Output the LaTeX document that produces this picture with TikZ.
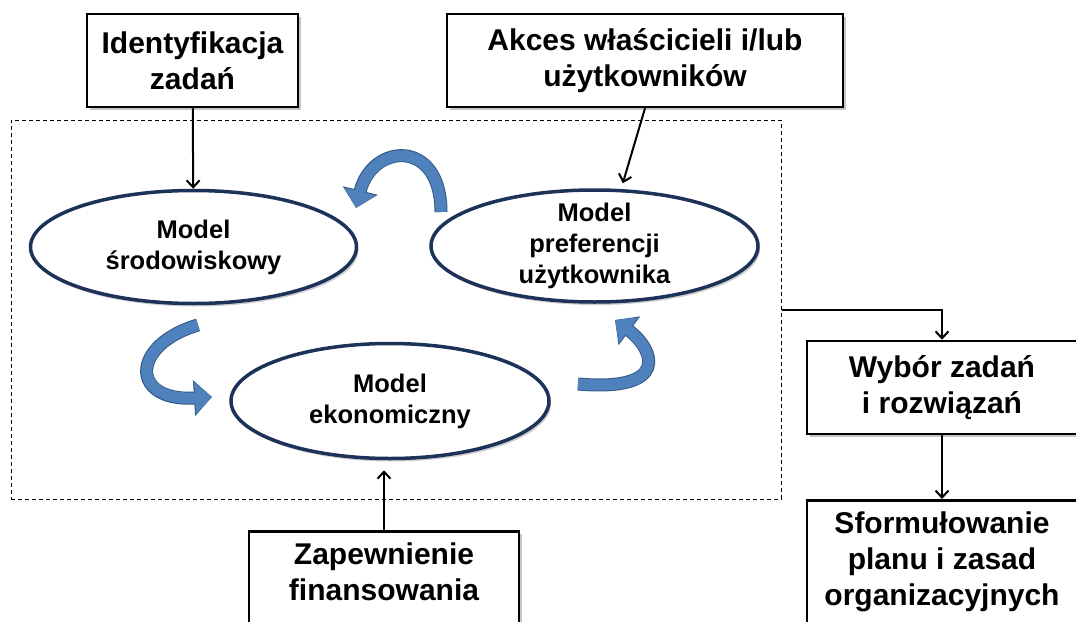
\documentclass[tikz,border=0pt]{standalone}
\usepackage{fontspec}
\setmainfont{Liberation Sans}
\usetikzlibrary{arrows.meta,shapes.geometric,shadows}
\definecolor{modelline}{RGB}{28,50,88}
\definecolor{cycleblue}{RGB}{79,129,189}
\definecolor{cycleedge}{RGB}{52,88,132}
\tikzset{>={Straight Barb[length=7pt,width=13pt]},
  box/.style={draw,line width=2.5pt,fill=white,align=center,font=\bfseries\fontsize{30}{36}\selectfont,drop shadow={shadow xshift=3pt,shadow yshift=-3pt,opacity=.45}},
  model/.style={ellipse,draw=modelline,line width=3.5pt,fill=white,inner sep=-4pt,align=center,font=\bfseries\fontsize{25.5}{31}\selectfont,drop shadow={shadow xshift=2pt,shadow yshift=-3pt,opacity=.4}},
  flow/.style={->,line width=2pt},
  cycle/.style={draw=cycleblue,line width=11pt,-{Triangle[length=17pt,width=31pt]},preaction={draw=cycleedge,line width=13pt,-{Triangle[length=18pt,width=35pt]}}}}

\begin{document}
\begin{tikzpicture}[x=1pt,y=-1pt]
\useasboundingbox (0,0) rectangle (1076,621);
\node[draw,dash pattern=on 4pt off 3pt,line width=1pt,minimum width=770pt,minimum height=379pt] (frame) at (396,309.5) {};

\node[box,minimum width=211pt,minimum height=93pt] (ident) at (192.5,60.5) {Identyfikacja\\zadań};
\node[box,minimum width=396pt,minimum height=93pt] (akces) at (645,60.5) {Akces właścicieli i/lub\\użytkowników};
\node[box,minimum width=270pt,minimum height=93pt] (wybor) at (942,387.5) {Wybór zadań\\i rozwiązań};
\node[box,anchor=north,minimum width=270pt,inner ysep=12pt] (sform) at (942,499) {Sformułowanie\\planu i zasad\\organizacyjnych\rule[-20pt]{0pt}{0pt}};
\node[box,anchor=north,minimum width=270pt,inner ysep=12pt] (zap) at (384,530) {Zapewnienie\\finansowania\rule[-16pt]{0pt}{0pt}};

\node[model,minimum width=326pt,minimum height=113pt] (env) at (193.5,247) {Model\\środowiskowy};
\node[model,minimum width=327pt,minimum height=112pt] (pref) at (594.5,246) {Model\\preferencji\\użytkownika};
\node[model,minimum width=318pt,minimum height=115pt] (eco) at (390,401) {Model\\ekonomiczny};

\draw[flow] (ident) -- (env);
\draw[flow,shorten >=6pt] (akces.south) -- (pref.65);
\draw[flow,shorten >=10pt] (zap.north) -- (zap.north |- eco.south);
\draw[flow] (frame.east) -| (wybor.north);
\draw[flow] (wybor) -- (sform);

\draw[cycle] (441,212) .. controls (441,138) and (372,143) .. (356,208);
\draw[cycle] (198,325) .. controls (130,345) and (130,402) .. (212,397);
\draw[cycle] (578,384) .. controls (670,392) and (655,350) .. (615,320);
\end{tikzpicture}
\end{document}
